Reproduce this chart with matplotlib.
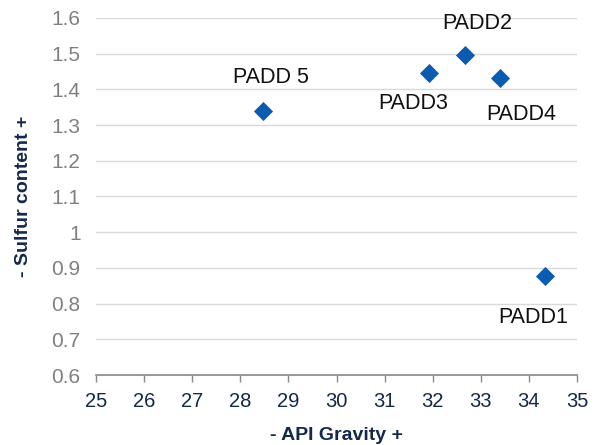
import matplotlib.pyplot as plt

plt.rcParams['font.family'] = ['Liberation Sans', 'DejaVu Sans']

regions = ['PADD1', 'PADD2', 'PADD3', 'PADD4', 'PADD 5']
gravity = [34.33, 32.67, 31.92, 33.4, 28.47]
sulfur = [0.877, 1.496, 1.446, 1.432, 1.34]
# offsets of the labels in points
label_off = [(-8, -30), (9, 23), (-11, -22), (15, -26), (6, 24)]

navy = '#13284b'
blue = '#0b5cb0'

fig = plt.figure(figsize=(6, 4.45), dpi=100)
ax = fig.add_axes([0.16, 0.1573, 0.8017, 0.8023])

ax.scatter(gravity, sulfur, marker='D', s=95, color=blue, zorder=3, linewidths=0)
for name, x, y, off in zip(regions, gravity, sulfur, label_off):
    ax.annotate(name, (x, y), xytext=off, textcoords='offset points',
                ha='center', va='center', fontsize=15.5, color='#111111')

ax.set_xlim(25, 35)
ax.set_ylim(0.6, 1.6)
ax.set_xticks(range(25, 36))
ax.set_yticks([0.6, 0.7, 0.8, 0.9, 1.0, 1.1, 1.2, 1.3, 1.4, 1.5, 1.6])
ax.set_yticklabels(['0.6', '0.7', '0.8', '0.9', '1', '1.1', '1.2', '1.3', '1.4', '1.5', '1.6'])

ax.grid(axis='y', color='#d9d9d9', linewidth=1)
ax.set_axisbelow(True)
for s in ['top', 'right', 'left']:
    ax.spines[s].set_visible(False)
ax.spines['bottom'].set_color('#888888')
ax.spines['bottom'].set_linewidth(1.2)

ax.tick_params(axis='x', colors='#888888', labelcolor=navy, labelsize=14.5,
               direction='out', length=5, width=1, pad=7)
ax.tick_params(axis='y', length=0, labelcolor='#808080', labelsize=15, pad=11)

ax.set_xlabel('- API Gravity +', fontsize=14, fontweight='bold', color=navy, labelpad=12)
ax.set_ylabel('- Sulfur content +', fontsize=14, fontweight='bold', color=navy, labelpad=14)

fig.savefig('out.png', dpi=100)
